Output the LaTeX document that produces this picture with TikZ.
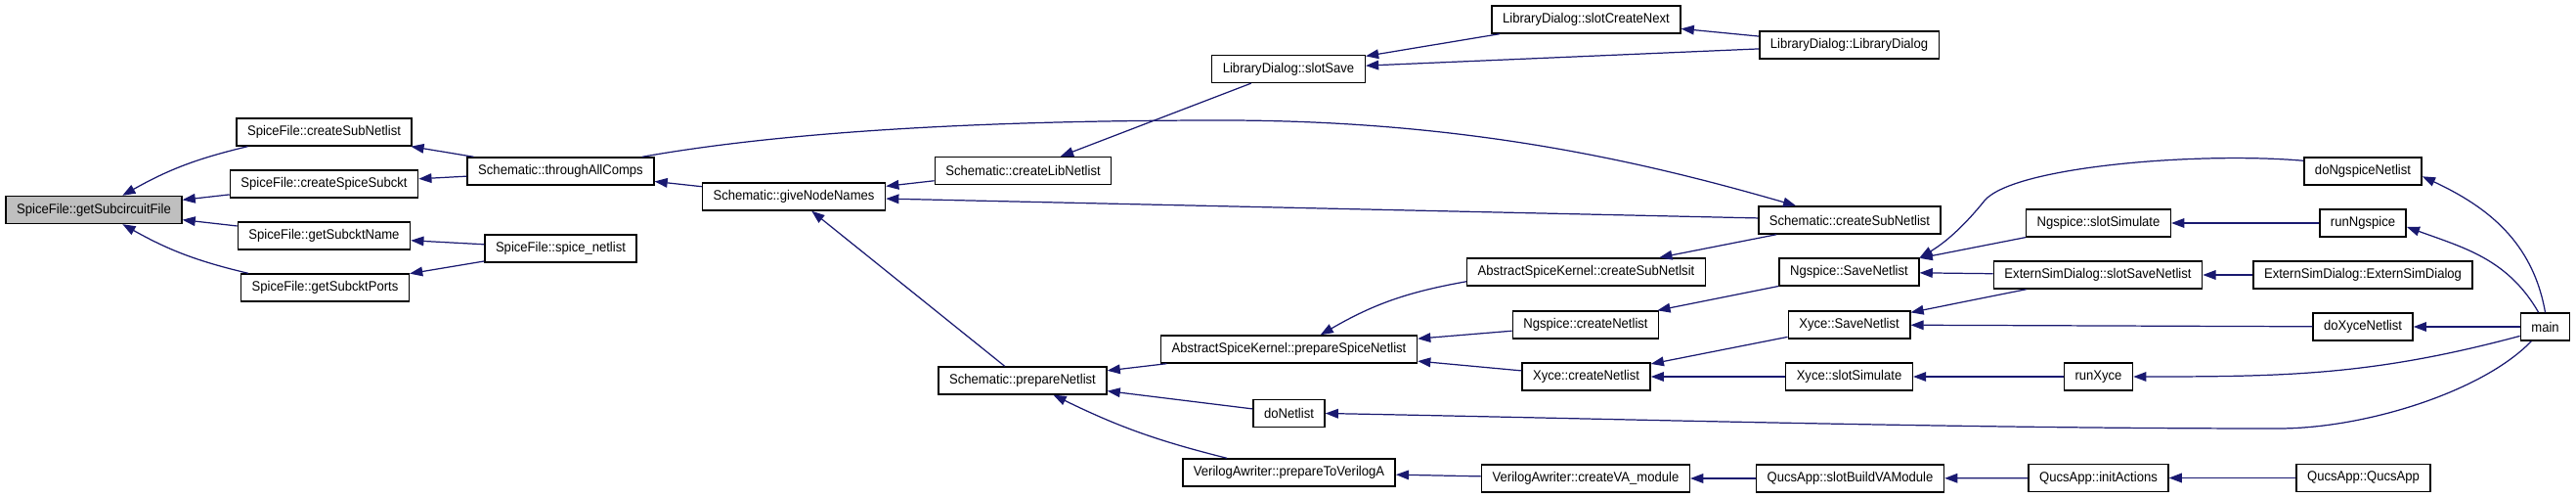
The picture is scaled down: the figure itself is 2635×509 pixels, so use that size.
\documentclass[tikz,border=0pt]{standalone}
\usepackage{fontspec}
\setmainfont{Liberation Sans}[FakeStretch=0.93]
\usepackage{tikz}
\usetikzlibrary{arrows.meta}
\usepackage{xcolor}
\definecolor{edgeblue}{HTML}{191970}

\begin{document}
\begin{tikzpicture}[
  x=0.02cm, y=-0.02cm,
  fn/.style={rectangle, draw=black, line width=0.8pt, fill=white,
             minimum height=0.56cm, inner xsep=6.3pt, inner ysep=0pt,
             font=\fontsize{8pt}{9.5pt}\selectfont},
  call/.style={-{Triangle[length=7.5pt, width=5.5pt]}, draw=edgeblue,
               fill=none, line width=0.7pt}
]
\useasboundingbox (0,0) rectangle (2635,509);

\node[fn, fill=black!25] (subFile) at (96,214.5) {SpiceFile::getSubcircuitFile};

\node[fn] (sfCreateSub) at (331.5,135) {SpiceFile::createSubNetlist};
\node[fn] (sfSpiceSub) at (331.5,188) {SpiceFile::createSpiceSubckt};
\node[fn] (sfSubName) at (331.5,241) {SpiceFile::getSubcktName};
\node[fn] (sfSubPorts) at (332.5,294) {SpiceFile::getSubcktPorts};

\node[fn] (allComps) at (573.5,175) {Schematic::throughAllComps};
\node[fn] (spiceNetlist) at (573.5,254) {SpiceFile::spice\_netlist};

\node[fn] (nodeNames) at (812,201) {Schematic::giveNodeNames};

\node[fn] (libNetlist) at (1046.5,174.5) {Schematic::createLibNetlist};
\node[fn] (prepNetlist) at (1046,389) {Schematic::prepareNetlist};

\node[fn] (slotSave) at (1318,70.5) {LibraryDialog::slotSave};
\node[fn] (prepSpice) at (1318.5,357) {AbstractSpiceKernel::prepareSpiceNetlist};
\node[fn] (doNetlist) at (1318.5,422.5) {doNetlist};
\node[fn] (prepVA) at (1318.5,483) {VerilogAwriter::prepareToVerilogA};

\node[fn] (slotCreateNext) at (1622.5,20) {LibraryDialog::slotCreateNext};
\node[fn] (kernelSub) at (1622.5,278) {AbstractSpiceKernel::createSubNetlsit};
\node[fn] (ngCreate) at (1622,332) {Ngspice::createNetlist};
\node[fn] (xyCreate) at (1622.5,385) {Xyce::createNetlist};
\node[fn] (createVA) at (1622,489) {VerilogAwriter::createVA\_module};

\node[fn] (libDialog) at (1891.5,46) {LibraryDialog::LibraryDialog};
\node[fn] (schSub) at (1892,225) {Schematic::createSubNetlist};
\node[fn] (ngSave) at (1891.5,278) {Ngspice::SaveNetlist};
\node[fn] (xySave) at (1891.5,332) {Xyce::SaveNetlist};
\node[fn] (xySim) at (1891.5,385) {Xyce::slotSimulate};
\node[fn] (buildVA) at (1892.5,489) {QucsApp::slotBuildVAModule};

\node[fn] (ngSim) at (2146.5,228) {Ngspice::slotSimulate};
\node[fn] (extSave) at (2146,281) {ExternSimDialog::slotSaveNetlist};
\node[fn] (runXyce) at (2146.5,385) {runXyce};
\node[fn] (initActions) at (2146.5,488.5) {QucsApp::initActions};

\node[fn] (doNgspice) at (2417,175) {doNgspiceNetlist};
\node[fn] (runNgspice) at (2417,228) {runNgspice};
\node[fn] (extDialog) at (2417,281) {ExternSimDialog::ExternSimDialog};
\node[fn] (doXyce) at (2417,334) {doXyceNetlist};
\node[fn] (qucsApp) at (2417.5,488.5) {QucsApp::QucsApp};

\node[fn] (main) at (2603.5,334) {main};

\draw[call] (sfCreateSub) to[bend right=8] (subFile);
\draw[call] (sfSpiceSub) -- (subFile);
\draw[call] (sfSubName) -- (subFile);
\draw[call] (sfSubPorts) to[bend left=8] (subFile);
\draw[call] (allComps) -- (sfCreateSub);
\draw[call] (allComps) -- (sfSpiceSub);
\draw[call] (spiceNetlist) -- (sfSubName);
\draw[call] (spiceNetlist) -- (sfSubPorts);

\draw[call] (nodeNames) -- (allComps);
\draw[call] (allComps.10) .. controls (800,135) and (1000,123) .. (1250,123)
  .. controls (1500,123) and (1680,165) .. (schSub.165);
\draw[call] (libNetlist) -- (nodeNames);
\draw[call] (schSub) -- (nodeNames);
\draw[call] (prepNetlist) -- (nodeNames);

\draw[call] (slotSave) -- (libNetlist);
\draw[call] (slotCreateNext) -- (slotSave);
\draw[call] (libDialog) -- (slotSave);
\draw[call] (libDialog) -- (slotCreateNext);

\draw[call] (prepSpice) -- (prepNetlist);
\draw[call] (doNetlist) -- (prepNetlist);
\draw[call] (prepVA) to[bend left=6] (prepNetlist);
\draw[call] (kernelSub) to[bend right=10] (prepSpice);
\draw[call] (ngCreate) -- (prepSpice);
\draw[call] (xyCreate) -- (prepSpice);
\draw[call] (schSub) -- (kernelSub);
\draw[call] (ngSave) -- (ngCreate);
\draw[call] (xySave) -- (xyCreate);
\draw[call] (xySim) -- (xyCreate);

\draw[call] (doNgspice.170) .. controls (2250,155) and (2060,170) .. (2030,205)
  .. controls (2010,230) and (1990,248) .. (ngSave.north east);
\draw[call] (ngSim) -- (ngSave);
\draw[call] (extSave) -- (ngSave);
\draw[call] (extSave) -- (xySave);
\draw[call] (doXyce) -- (xySave);
\draw[call] (runXyce) -- (xySim);
\draw[call] (runNgspice) -- (ngSim);
\draw[call] (extDialog) -- (extSave);

\draw[call] (createVA) -- (prepVA);
\draw[call] (buildVA) -- (createVA);
\draw[call] (initActions) -- (buildVA);
\draw[call] (qucsApp) -- (initActions);

\draw[call] (main.226) .. controls (2540,400) and (2420,438) .. (2330,438)
  .. controls (2000,438) and (1650,428) .. (doNetlist.east);
\draw[call] (main.north) to[out=100, in=-25] (doNgspice.-5);
\draw[call] (main.115) to[out=120, in=-20] (runNgspice.-5);
\draw[call] (main) -- (doXyce);
\draw[call] (main.200) to[out=195, in=0] (runXyce.east);

\end{tikzpicture}
\end{document}
